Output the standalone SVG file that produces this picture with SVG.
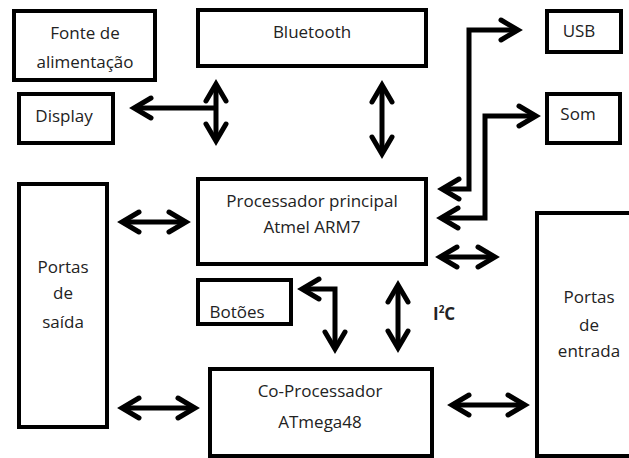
<svg xmlns="http://www.w3.org/2000/svg" width="629" height="458" viewBox="0 0 629 458">
<defs>
<style>
.box{fill:#fff;stroke:#000;stroke-width:4}
.t{font-family:"Open Sans","Liberation Sans",sans-serif;font-size:17px;fill:#222;text-anchor:middle}
.b{font-weight:bold;text-anchor:start}
.c{fill:none;stroke:#000;stroke-width:5;stroke-linejoin:miter}
</style>
<marker id="h" markerUnits="userSpaceOnUse" viewBox="-22 -14 26 28" refX="0" refY="0" markerWidth="26" markerHeight="28" orient="auto-start-reverse" overflow="visible">
<path d="M-17,-10 L0,0 L-17,10" fill="none" stroke="#000" stroke-width="5" stroke-linecap="round"/>
</marker>
</defs>
<rect width="629" height="458" fill="#fff"/>
<g id="fonte"><rect class="box" x="14" y="11" width="141" height="69"/><text class="t" x="85" y="39">Fonte de</text><text class="t" x="85" y="68">alimentação</text></g>
<g id="display"><rect class="box" x="19" y="94" width="94" height="49"/><text class="t" x="64" y="122">Display</text></g>
<g id="bluetooth"><rect class="box" x="198" y="10" width="228" height="56"/><text class="t" x="312" y="38">Bluetooth</text></g>
<g id="usb"><rect class="box" x="547" y="11" width="74" height="41"/><text class="t" x="579" y="37">USB</text></g>
<g id="som"><rect class="box" x="547" y="94" width="73" height="49"/><text class="t" x="578" y="120">Som</text></g>
<g id="processador"><rect class="box" x="198" y="179" width="228" height="85"/><text class="t" x="312" y="207">Processador principal</text><text class="t" x="312" y="233">Atmel ARM7</text></g>
<g id="botoes"><rect class="box" x="198" y="280" width="93" height="44"/><text class="t" x="237" y="318">Botões</text></g>
<g id="saida"><rect class="box" x="19" y="184" width="88" height="243"/><text class="t" x="63" y="273">Portas</text><text class="t" x="63" y="299">de</text><text class="t" x="63" y="328">saída</text></g>
<g id="coprocessador"><rect class="box" x="210" y="369" width="222" height="87"/><text class="t" x="320" y="397">Co-Processador</text><text class="t" x="320" y="428">ATmega48</text></g>
<g id="entrada"><rect class="box" x="537" y="213" width="100" height="243"/><text class="t" x="589" y="303">Portas</text><text class="t" x="589" y="331">de</text><text class="t" x="589" y="357">entrada</text></g>
<g id="connectors">
<line class="c" x1="216" y1="84" x2="216" y2="141" marker-start="url(#h)" marker-end="url(#h)"/>
<line class="c" x1="216" y1="108" x2="134" y2="108" marker-end="url(#h)"/>
<line class="c" x1="382" y1="85" x2="382" y2="154" marker-start="url(#h)" marker-end="url(#h)"/>
<polyline class="c" points="442,189 469,189 469,30 518,30" marker-start="url(#h)" marker-end="url(#h)"/>
<polyline class="c" points="441,218 485,218 485,116 536,116" marker-start="url(#h)" marker-end="url(#h)"/>
<line class="c" x1="440" y1="257" x2="495" y2="257" marker-start="url(#h)" marker-end="url(#h)"/>
<line class="c" x1="122" y1="222" x2="186" y2="222" marker-start="url(#h)" marker-end="url(#h)"/>
<line class="c" x1="122" y1="408" x2="195" y2="408" marker-start="url(#h)" marker-end="url(#h)"/>
<polyline class="c" points="302,289 335,289 335,349" marker-start="url(#h)" marker-end="url(#h)"/>
<line class="c" x1="398" y1="285" x2="398" y2="348" marker-start="url(#h)" marker-end="url(#h)"/>
<line class="c" x1="452" y1="405" x2="525" y2="405" marker-start="url(#h)" marker-end="url(#h)"/>
</g>
<text class="t b" x="433" y="320" style="font-size:17px">I<tspan dy="-7" style="font-size:10px">2</tspan><tspan dy="7">C</tspan></text>
</svg>
